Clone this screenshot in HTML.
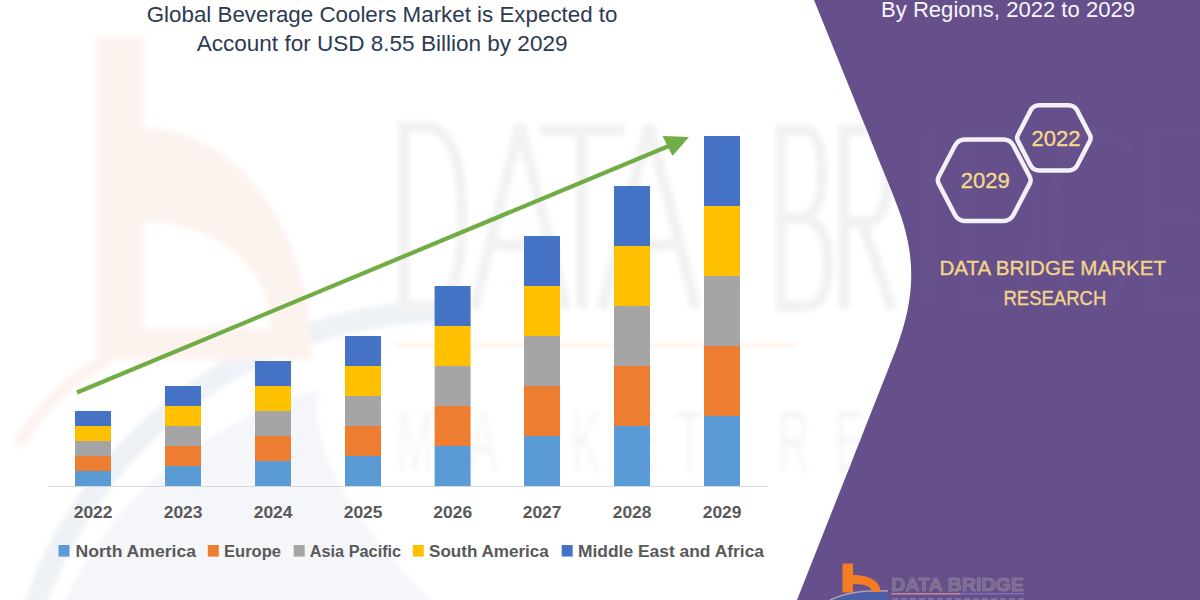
<!DOCTYPE html>
<html><head><meta charset="utf-8">
<style>
html,body{margin:0;padding:0;}
body{width:1200px;height:600px;overflow:hidden;position:relative;background:#fff;font-family:"Liberation Sans",sans-serif;}
svg{position:absolute;left:0;top:0;}
</style></head><body>
<svg width="1200" height="600" viewBox="0 0 1200 600">
  <path d="M814 0 L895 200 C917.4 255 915.9 297 895 352 L797 600 L1200 600 L1200 0 Z" fill="#65508b"/>

  <defs>
    <filter id="bl" x="-10%" y="-10%" width="120%" height="120%"><feGaussianBlur stdDeviation="2.5"/></filter>
    <clipPath id="cl"><path d="M0 0 L814 0 L895 200 C917.4 255 915.9 297 895 352 L797 600 L0 600 Z"/></clipPath>
    <clipPath id="cp"><path d="M814 0 L895 200 C917.4 255 915.9 297 895 352 L797 600 L1200 600 L1200 0 Z"/></clipPath>
  </defs>
  <g clip-path="url(#cl)"><g filter="url(#bl)">
    <!-- blue swoosh -->
    <path d="M30 620 A439 439 0 0 1 450 311" fill="none" stroke="#eef1f6" stroke-width="22"/>
    <path d="M60 610 A392 392 0 0 1 320 390 Q300 470 440 610 Z" fill="#f4f6f9"/>
    <!-- orange b -->
    <g fill="#fdf3ee">
      <rect x="96" y="37" width="48" height="323"/>
      <path d="M144 128 C230 128 312 220 312 360 L144 360 Z"/>
    </g>
    <path d="M144 222 C210 222 270 262 270 328 L144 328 Z" fill="#fff"/>
    <path d="M110 358 Q55 385 18 445" fill="none" stroke="#fdf3ee" stroke-width="12"/>
    <!-- DATA BRIDGE letters -->
    <g fill="none" stroke="#f2f2f2" stroke-width="11" stroke-linejoin="miter">
      <path d="M404 127 L404 307 L425 307 Q462 307 462 217 Q462 127 425 127 Z"/>
      <path d="M474 309 L520 125 L566 309 M490 245 L550 245"/>
      <path d="M540 130 L625 130 M582 130 L582 309"/>
      <path d="M602 309 L649 125 L696 309 M618 245 L680 245"/>
      <path d="M781 130 L781 306 L805 306 Q828 306 828 262 Q828 222 803 218 Q822 212 822 174 Q822 130 802 130 Z M781 218 L803 218"/>
      <path d="M844 309 L844 130 L865 130 Q888 130 888 176 Q888 222 865 222 L844 222 M862 222 L892 309"/>
    </g>
    <path d="M395 345 L796 345" stroke="#fcf1ea" stroke-width="4"/>
    <g font-family="Liberation Sans" font-size="88" fill="#f5f5f5"><text transform="translate(397 471) scale(0.5 1)" x="0" y="0">M</text><text transform="translate(468 471) scale(0.5 1)" x="0" y="0">A</text><text transform="translate(523 471) scale(0.5 1)" x="0" y="0">R</text><text transform="translate(571 471) scale(0.5 1)" x="0" y="0">K</text><text transform="translate(627 471) scale(0.5 1)" x="0" y="0">E</text><text transform="translate(676 471) scale(0.5 1)" x="0" y="0">T</text><text transform="translate(778 471) scale(0.5 1)" x="0" y="0">R</text><text transform="translate(835 471) scale(0.5 1)" x="0" y="0">E</text></g>
  </g></g>
  <g clip-path="url(#cp)">
    <g fill="none" stroke="#67528d" stroke-width="10">
      <path d="M930 132 L930 306"/>
      <path d="M966 132 L966 304 L992 304 Q1036 304 1036 218 Q1036 132 992 132 Z"/>
      <path d="M1130 150 Q1110 132 1090 132 Q1054 132 1054 218 Q1054 304 1090 304 Q1124 304 1124 250 L1100 250"/>
      <path d="M1200 132 L1150 132 L1150 304 L1200 304 M1150 218 L1195 218"/>
    </g>
  </g>

  <text x="146.7" y="21.8" font-family="Liberation Sans" font-size="22" fill="#2c3a52" textLength="470.8" lengthAdjust="spacingAndGlyphs">Global Beverage Coolers Market is Expected to</text>
  <text x="196.7" y="51" font-family="Liberation Sans" font-size="22" fill="#2c3a52" textLength="370.8" lengthAdjust="spacingAndGlyphs">Account for USD 8.55 Billion by 2029</text>
  <text x="881" y="17.2" font-family="Liberation Sans" font-size="22" fill="#f8f6fb" textLength="254" lengthAdjust="spacingAndGlyphs">By Regions, 2022 to 2029</text>
  <line x1="48" y1="486.5" x2="768" y2="486.5" stroke="#d9d9d9" stroke-width="1"/>
<rect x="75" y="471" width="36" height="15" fill="#5b9bd5"/>
<rect x="75" y="456" width="36" height="15" fill="#ed7d31"/>
<rect x="75" y="441" width="36" height="15" fill="#a5a5a5"/>
<rect x="75" y="426" width="36" height="15" fill="#ffc000"/>
<rect x="75" y="411" width="36" height="15" fill="#4472c4"/>
<rect x="165" y="466" width="36" height="20" fill="#5b9bd5"/>
<rect x="165" y="446" width="36" height="20" fill="#ed7d31"/>
<rect x="165" y="426" width="36" height="20" fill="#a5a5a5"/>
<rect x="165" y="406" width="36" height="20" fill="#ffc000"/>
<rect x="165" y="386" width="36" height="20" fill="#4472c4"/>
<rect x="255" y="461" width="36" height="25" fill="#5b9bd5"/>
<rect x="255" y="436" width="36" height="25" fill="#ed7d31"/>
<rect x="255" y="411" width="36" height="25" fill="#a5a5a5"/>
<rect x="255" y="386" width="36" height="25" fill="#ffc000"/>
<rect x="255" y="361" width="36" height="25" fill="#4472c4"/>
<rect x="345" y="456" width="36" height="30" fill="#5b9bd5"/>
<rect x="345" y="426" width="36" height="30" fill="#ed7d31"/>
<rect x="345" y="396" width="36" height="30" fill="#a5a5a5"/>
<rect x="345" y="366" width="36" height="30" fill="#ffc000"/>
<rect x="345" y="336" width="36" height="30" fill="#4472c4"/>
<rect x="434.6" y="446" width="36" height="40" fill="#5b9bd5"/>
<rect x="434.6" y="406" width="36" height="40" fill="#ed7d31"/>
<rect x="434.6" y="366" width="36" height="40" fill="#a5a5a5"/>
<rect x="434.6" y="326" width="36" height="40" fill="#ffc000"/>
<rect x="434.6" y="286" width="36" height="40" fill="#4472c4"/>
<rect x="524" y="436" width="36" height="50" fill="#5b9bd5"/>
<rect x="524" y="386" width="36" height="50" fill="#ed7d31"/>
<rect x="524" y="336" width="36" height="50" fill="#a5a5a5"/>
<rect x="524" y="286" width="36" height="50" fill="#ffc000"/>
<rect x="524" y="236" width="36" height="50" fill="#4472c4"/>
<rect x="614" y="426" width="36" height="60" fill="#5b9bd5"/>
<rect x="614" y="366" width="36" height="60" fill="#ed7d31"/>
<rect x="614" y="306" width="36" height="60" fill="#a5a5a5"/>
<rect x="614" y="246" width="36" height="60" fill="#ffc000"/>
<rect x="614" y="186" width="36" height="60" fill="#4472c4"/>
<rect x="704" y="416" width="36" height="70" fill="#5b9bd5"/>
<rect x="704" y="346" width="36" height="70" fill="#ed7d31"/>
<rect x="704" y="276" width="36" height="70" fill="#a5a5a5"/>
<rect x="704" y="206" width="36" height="70" fill="#ffc000"/>
<rect x="704" y="136" width="36" height="70" fill="#4472c4"/>
  <line x1="77" y1="392.5" x2="676" y2="143" stroke="#70ad47" stroke-width="4.2"/>
  <polygon points="689,137 662.5,136 672.5,156" fill="#70ad47"/>
<text x="73.7" y="518.3" font-family="Liberation Sans" font-weight="bold" font-size="17" fill="#595959" textLength="38.8" lengthAdjust="spacingAndGlyphs">2022</text>
<text x="163.7" y="518.3" font-family="Liberation Sans" font-weight="bold" font-size="17" fill="#595959" textLength="38.8" lengthAdjust="spacingAndGlyphs">2023</text>
<text x="253.7" y="518.3" font-family="Liberation Sans" font-weight="bold" font-size="17" fill="#595959" textLength="38.8" lengthAdjust="spacingAndGlyphs">2024</text>
<text x="343.7" y="518.3" font-family="Liberation Sans" font-weight="bold" font-size="17" fill="#595959" textLength="38.8" lengthAdjust="spacingAndGlyphs">2025</text>
<text x="433.3" y="518.3" font-family="Liberation Sans" font-weight="bold" font-size="17" fill="#595959" textLength="38.8" lengthAdjust="spacingAndGlyphs">2026</text>
<text x="522.7" y="518.3" font-family="Liberation Sans" font-weight="bold" font-size="17" fill="#595959" textLength="38.8" lengthAdjust="spacingAndGlyphs">2027</text>
<text x="612.7" y="518.3" font-family="Liberation Sans" font-weight="bold" font-size="17" fill="#595959" textLength="38.8" lengthAdjust="spacingAndGlyphs">2028</text>
<text x="702.7" y="518.3" font-family="Liberation Sans" font-weight="bold" font-size="17" fill="#595959" textLength="38.8" lengthAdjust="spacingAndGlyphs">2029</text>
<rect x="58.5" y="545" width="11" height="11.6" fill="#5b9bd5"/>
<text x="75.5" y="556.7" font-family="Liberation Sans" font-weight="bold" font-size="16" fill="#595959" textLength="120.5" lengthAdjust="spacingAndGlyphs">North America</text>
<rect x="207.8" y="545" width="11" height="11.6" fill="#ed7d31"/>
<text x="224" y="556.7" font-family="Liberation Sans" font-weight="bold" font-size="16" fill="#595959" textLength="57" lengthAdjust="spacingAndGlyphs">Europe</text>
<rect x="293.7" y="545" width="11" height="11.6" fill="#a5a5a5"/>
<text x="309.7" y="556.7" font-family="Liberation Sans" font-weight="bold" font-size="16" fill="#595959" textLength="91.5" lengthAdjust="spacingAndGlyphs">Asia Pacific</text>
<rect x="412.8" y="545" width="11" height="11.6" fill="#ffc000"/>
<text x="429" y="556.7" font-family="Liberation Sans" font-weight="bold" font-size="16" fill="#595959" textLength="119.8" lengthAdjust="spacingAndGlyphs">South America</text>
<rect x="561.7" y="545" width="11" height="11.6" fill="#4472c4"/>
<text x="578" y="556.7" font-family="Liberation Sans" font-weight="bold" font-size="16" fill="#595959" textLength="186" lengthAdjust="spacingAndGlyphs">Middle East and Africa</text>
  <g fill="none" stroke="#f3f0f7" stroke-width="4.5" stroke-linejoin="round">
    <path d="M1018.0 141.1 Q1016.3 137.9 1018.0 134.7 L1030.5 110.6 Q1033.3 105.3 1039.3 105.3 L1068.5 105.3 Q1074.5 105.3 1077.3 110.6 L1089.8 134.7 Q1091.5 137.9 1089.8 141.1 L1077.3 165.2 Q1074.5 170.5 1068.5 170.5 L1039.3 170.5 Q1033.3 170.5 1030.5 165.2 Z"/>
    <path d="M938.8 183.9 Q936.8 180.2 938.8 176.5 L954.9 145.7 Q958.2 139.5 965.2 139.5 L1003.2 139.5 Q1010.2 139.5 1013.5 145.7 L1029.6 176.5 Q1031.6 180.2 1029.6 183.9 L1013.5 214.7 Q1010.2 220.9 1003.2 220.9 L965.2 220.9 Q958.2 220.9 954.9 214.7 Z"/>
  </g>
  <text x="1031.6" y="145.5" font-family="Liberation Sans" font-size="22" fill="#f5d98c" stroke="#f5d98c" stroke-width="0.35" textLength="49" lengthAdjust="spacingAndGlyphs">2022</text>
  <text x="960.8" y="188" font-family="Liberation Sans" font-size="22" fill="#f5d98c" stroke="#f5d98c" stroke-width="0.35" textLength="49" lengthAdjust="spacingAndGlyphs">2029</text>
  <text x="939.5" y="275.3" font-family="Liberation Sans" font-size="21" fill="#f3d588" stroke="#f3d588" stroke-width="0.35" textLength="226.5" lengthAdjust="spacingAndGlyphs">DATA BRIDGE MARKET</text>

  <!-- bottom logo -->
  <g>
    <path d="M830 600 Q852 589 888 591 L888 600 Z" fill="#4a5fa8"/>
    <path d="M830 600 Q852 589 888 591" fill="none" stroke="#b89aa8" stroke-width="1.5"/>
    <rect x="842.5" y="563.5" width="10.5" height="29" fill="#f47c22"/>
    <path d="M853 575 C869 575 880.5 581 880.5 592 L872 592 C872 587 866 584 853 584 Z" fill="#f47c22"/>
    <text x="891" y="591" font-family="Liberation Sans" font-weight="bold" font-size="19" fill="#7b6a92" stroke="#9a8aa2" stroke-width="0.5" textLength="133" lengthAdjust="spacingAndGlyphs">DATA BRIDGE</text>
    <rect x="891" y="593" width="69" height="1.6" fill="#c98296"/>
    <rect x="960" y="593" width="64" height="1.6" fill="#7a74b4"/>
    <path d="M892 599 L1024 599" stroke="#7f70a0" stroke-width="2" stroke-dasharray="6 3"/>
  </g>
  <text x="1003.4" y="305.2" font-family="Liberation Sans" font-size="21" fill="#f3d588" stroke="#f3d588" stroke-width="0.35" textLength="103" lengthAdjust="spacingAndGlyphs">RESEARCH</text>
</svg>
</body></html>
